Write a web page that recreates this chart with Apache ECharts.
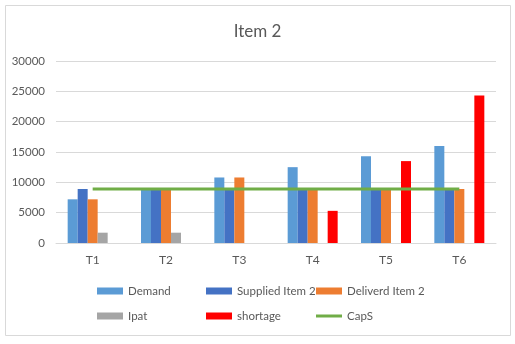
<!DOCTYPE html>
<html>
<head>
<meta charset="utf-8">
<script src="https://cdn.jsdelivr.net/npm/echarts@6/dist/echarts.min.js"></script>
<style>html,body{margin:0;padding:0;background:#fff;}#c{width:515px;height:344px;}</style>
</head>
<body>
<div id="c"></div>
<script>
var categories = ['T1', 'T2', 'T3', 'T4', 'T5', 'T6'];
var demand = [7200, 8900, 10800, 12500, 14300, 16000];
var supplied = [8900, 8900, 8900, 8800, 8800, 8800];
var delivered = [7200, 8900, 10800, 8800, 8800, 8900];
var ipat = [1700, 1700, 0, 0, 0, 0];
var shortage = [0, 0, 0, 5300, 13500, 24300];
var caps = [8900, 8900, 8900, 8900, 8900, 8900];
var yTicks = [0, 5000, 10000, 15000, 20000, 25000, 30000];

var FONT = 'Lato';
var TXT = '#595959';
var chart = echarts.init(document.getElementById('c'), null, {renderer: 'canvas'});

function bar(name, data, color) {
  return {name: name, type: 'bar', data: data, barWidth: 10, barGap: '0%',
    itemStyle: {color: color}, emphasis: {disabled: true}};
}
var series = [
  bar('Demand', demand, '#5B9BD5'),
  bar('Supplied Item 2', supplied, '#4472C4'),
  bar('Deliverd Item 2', delivered, '#ED7D31'),
  bar('Ipat', ipat, '#A5A5A5'),
  bar('shortage', shortage, '#FF0000'),
  {name: 'CapS', type: 'line', data: caps, symbol: 'none', z: 5,
   lineStyle: {color: '#70AD47', width: 3}, itemStyle: {color: '#70AD47'}}
];

var legendPos = [
  ['Demand', 97, 285], ['Supplied Item 2', 206, 285], ['Deliverd Item 2', 316, 285],
  ['Ipat', 97, 310], ['shortage', 206, 310], ['CapS', 316, 310]
];
var legends = legendPos.map(function (p) {
  var isLine = p[0] === 'CapS';
  return {data: [{name: p[0], icon: 'rect'}], left: p[1], top: p[2],
    itemWidth: 26, itemHeight: isLine ? 3 : 7, itemGap: 4,
    textStyle: {fontFamily: FONT, fontSize: 11.5, color: TXT}, selectedMode: false, padding: 0};
});

chart.setOption({
  animation: false,
  backgroundColor: '#fff',
  title: {text: 'Item 2', left: 'center', top: 18,
    textStyle: {fontFamily: FONT, fontSize: 17, fontWeight: 'normal', color: TXT}},
  graphic: [{type: 'rect', shape: {x: 5.5, y: 5.5, width: 505, height: 330},
    style: {fill: 'none', stroke: '#d9d9d9', lineWidth: 1}, silent: true}],
  legend: legends,
  grid: {left: 56, right: 19, top: 61, bottom: 101, containLabel: false},
  xAxis: {type: 'category', data: categories, boundaryGap: true,
    axisLine: {lineStyle: {color: '#d9d9d9'}}, axisTick: {show: false},
    axisLabel: {fontFamily: FONT, fontSize: 12, color: TXT, margin: 11}},
  yAxis: {type: 'value', min: yTicks[0], max: yTicks[yTicks.length - 1], interval: 5000,
    axisLine: {show: false}, axisTick: {show: false},
    splitLine: {lineStyle: {color: '#d9d9d9'}},
    axisLabel: {fontFamily: FONT, fontSize: 11.5, color: TXT, margin: 11,
      formatter: function (v) { return String(v); }}},
  series: series
});
</script>
</body>
</html>
